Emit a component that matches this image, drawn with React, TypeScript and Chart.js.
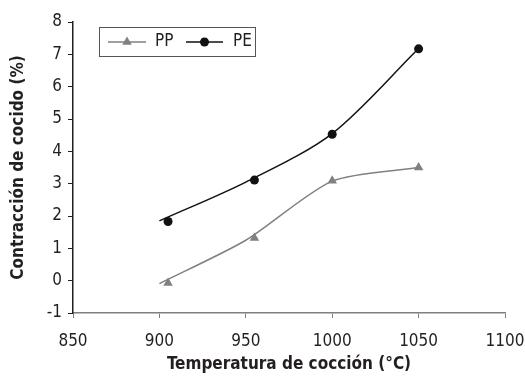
import React, { useEffect, useRef } from 'react';
import { Chart, registerables } from 'chart.js';

Chart.register(...registerables);

const seriesNames = ['PP', 'PE'];
const lineTemps = [900, 950, 1000, 1050];
const markerTemps = [905, 955, 1000, 1050];
const ppLine = [-0.09, 1.25, 3.08, 3.5];
const ppMarkers = [-0.07, 1.32, 3.09, 3.5];
const peLine = [1.85, 3.05, 4.55, 7.18];
const peMarkers = [1.83, 3.11, 4.53, 7.17];
const xTitle = 'Temperatura de cocción (°C)';
const yTitle = 'Contracción de cocido (%)';

const FONT = "'Liberation Sans Narrow', 'DejaVu Sans Condensed', sans-serif";
const TEXT = '#231f20';
const PP_COLOR = '#808080';
const PE_COLOR = '#111111';

const toXY = (xs: number[], ys: number[]) => xs.map((x, i) => ({ x, y: ys[i] }));

const legendPlugin = {
  id: 'boxLegend',
  afterDraw(chart: any) {
    const ctx = chart.ctx as CanvasRenderingContext2D;
    ctx.save();
    const bx = 99.5, by = 27.5, bw = 156, bh = 29;
    ctx.fillStyle = '#ffffff';
    ctx.fillRect(bx, by, bw, bh);
    ctx.strokeStyle = '#555555';
    ctx.lineWidth = 1;
    ctx.strokeRect(bx, by, bw, bh);
    const cy = 42;
    const items = [
      { name: seriesNames[0], color: PP_COLOR, x0: 108, x1: 146, tx: 155, shape: 'tri' },
      { name: seriesNames[1], color: PE_COLOR, x0: 186, x1: 223, tx: 233, shape: 'circ' },
    ];
    for (const it of items) {
      ctx.strokeStyle = it.color;
      ctx.lineWidth = 1.5;
      ctx.beginPath();
      ctx.moveTo(it.x0, cy);
      ctx.lineTo(it.x1, cy);
      ctx.stroke();
      const mx = (it.x0 + it.x1) / 2;
      ctx.fillStyle = it.color;
      ctx.beginPath();
      if (it.shape === 'tri') {
        const r = 5.5;
        ctx.moveTo(mx, cy - r);
        ctx.lineTo(mx + r * 0.866, cy + r * 0.5);
        ctx.lineTo(mx - r * 0.866, cy + r * 0.5);
        ctx.closePath();
      } else {
        ctx.arc(mx, cy, 4.5, 0, Math.PI * 2);
      }
      ctx.fill();
      ctx.fillStyle = TEXT;
      ctx.font = `17px ${FONT}`;
      ctx.textBaseline = 'middle';
      ctx.textAlign = 'left';
      ctx.fillText(it.name, it.tx, cy);
    }
    ctx.restore();
  },
};

export default function App() {
  const ref = useRef<HTMLCanvasElement>(null);
  useEffect(() => {
    if (!ref.current) return;
    const chart = new Chart(ref.current, {
      type: 'scatter',
      data: {
        datasets: [
          {
            label: seriesNames[0] + ' line',
            data: toXY(lineTemps, ppLine),
            showLine: true,
            tension: 0.25,
            borderColor: PP_COLOR,
            borderWidth: 1.5,
            pointRadius: 0,
          },
          {
            label: seriesNames[1] + ' line',
            data: toXY(lineTemps, peLine),
            showLine: true,
            tension: 0.3,
            borderColor: PE_COLOR,
            borderWidth: 1.5,
            pointRadius: 0,
          },
          {
            label: seriesNames[0],
            data: toXY(markerTemps, ppMarkers),
            showLine: false,
            pointStyle: 'triangle',
            pointRadius: 5.5,
            backgroundColor: PP_COLOR,
            borderColor: PP_COLOR,
            borderWidth: 0,
          },
          {
            label: seriesNames[1],
            data: toXY(markerTemps, peMarkers),
            showLine: false,
            pointStyle: 'circle',
            pointRadius: 4.5,
            backgroundColor: PE_COLOR,
            borderColor: PE_COLOR,
            borderWidth: 0,
          },
        ],
      },
      options: {
        animation: false,
        responsive: false,
        devicePixelRatio: 1,
        layout: { padding: { top: 22, right: 20, left: 0, bottom: 0 } },
        plugins: { legend: { display: false }, tooltip: { enabled: false } },
        scales: {
          x: {
            type: 'linear',
            min: 850,
            max: 1100,
            afterFit: (s: any) => { s.height = 63; s.paddingLeft = 0; s.paddingRight = 0; },
            ticks: { stepSize: 50, color: TEXT, font: { family: FONT, size: 17 }, padding: 13, maxRotation: 0, callback: (v: any) => String(v) },
            grid: { display: true, drawOnChartArea: false, drawTicks: true, tickLength: 5, color: PP_COLOR },
            border: { display: true, color: PP_COLOR, width: 1.5 },
            title: { display: true, text: xTitle, color: TEXT, font: { family: FONT, size: 17, weight: 'bold' }, padding: { top: 0, bottom: 1 } },
          },
          y: {
            type: 'linear',
            min: -1,
            max: 8,
            afterFit: (s: any) => { s.width = 73; s.paddingTop = 0; s.paddingBottom = 0; },
            ticks: { stepSize: 1, color: TEXT, font: { family: FONT, size: 17 }, padding: 6, callback: (v: any) => String(v) },
            grid: { display: true, drawOnChartArea: false, drawTicks: true, tickLength: 5, color: TEXT },
            border: { display: true, color: TEXT, width: 1.5 },
            title: { display: true, text: yTitle, color: TEXT, font: { family: FONT, size: 17, weight: 'bold' }, padding: { top: 8, bottom: 0 } },
          },
        },
      },
      plugins: [legendPlugin],
    } as any);
    return () => chart.destroy();
  }, []);
  return (
    <div style={{ position: 'absolute', left: 0, top: 0, width: 525, height: 376, background: '#fff' }}>
      <canvas ref={ref} width={525} height={376} style={{ width: 525, height: 376 }} />
    </div>
  );
}
